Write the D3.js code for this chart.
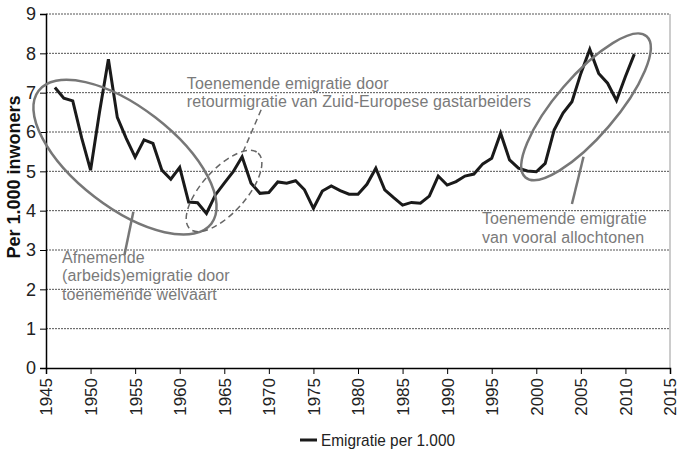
<!DOCTYPE html>
<html>
<head>
<meta charset="utf-8">
<script src="https://cdn.jsdelivr.net/npm/d3@7"></script>
<style>
  body { margin: 0; background: #fff; }
  svg { display: block; font-family: "Liberation Sans", Arial, sans-serif; }
  .grid line { stroke: #555; stroke-width: 1; stroke-dasharray: 2,1; }
  .note { fill: #7a7a7a; font-size: 16px; letter-spacing: 0.1px; }
</style>
</head>
<body>
<div id="chart"></div>
<script>
// data
var years = d3.range(1946, 2012);
var emigratie = [
  7.13, 6.86, 6.79, 5.85, 5.03, 6.5, 7.85, 6.37, 5.84, 5.36,
  5.8, 5.71, 5.03, 4.8, 5.1, 4.22, 4.2, 3.93, 4.4, 4.7,
  4.99, 5.37, 4.7, 4.44, 4.46, 4.73, 4.7, 4.76, 4.53, 4.06,
  4.5, 4.63, 4.51, 4.42, 4.42, 4.67, 5.08, 4.53, 4.33, 4.14,
  4.21, 4.19, 4.37, 4.88, 4.65, 4.74, 4.88, 4.93, 5.19, 5.33,
  5.97, 5.29, 5.08, 5.01, 4.99, 5.2, 6.05, 6.48, 6.77, 7.49,
  8.1, 7.49, 7.24, 6.8, 7.41, 7.98
];
var xTicks = d3.range(1945, 2016, 5);
var yTicks = d3.range(0, 10);
var seriesName = "Emigratie per 1.000";
var yTitle = "Per 1.000 inwoners";

var svgWidth = 680, svgHeight = 456;
var margin = { top: 14, right: 10, bottom: 88, left: 46 };
var width = svgWidth - margin.left - margin.right;    // 624
var height = svgHeight - margin.top - margin.bottom;  // 354

var svg = d3.select("#chart").append("svg")
  .attr("width", svgWidth)
  .attr("height", svgHeight);

var g = svg.append("g")
  .attr("transform", `translate(${margin.left},${margin.top})`);

var x = d3.scaleLinear().domain([1945, 2015]).range([0, width]);
var y = d3.scaleLinear().domain([0, 9]).range([height, 0]);

// dotted gridlines
g.append("g").attr("class", "grid")
  .selectAll("line")
  .data(yTicks.slice(1))
  .enter().append("line")
  .attr("x1", 0).attr("x2", width)
  .attr("y1", d => y(d)).attr("y2", d => y(d));

// right border
g.append("line")
  .attr("x1", width).attr("x2", width)
  .attr("y1", 0).attr("y2", height)
  .attr("stroke", "#999").attr("stroke-width", 1);

// axes
var leftAxis = d3.axisLeft(y).tickValues(yTicks).tickSize(6).tickPadding(4);
var bottomAxis = d3.axisBottom(x).tickValues(xTicks).tickFormat(d3.format("d")).tickSize(6);

var ya = g.append("g").call(leftAxis);
ya.select(".domain").attr("stroke", "#000").attr("stroke-width", 1.5);
ya.selectAll(".tick line").attr("stroke", "#000");
ya.selectAll("text").attr("font-size", 18).attr("fill", "#222")
  .attr("font-family", "Liberation Sans, Arial, sans-serif");

var xa = g.append("g").attr("transform", `translate(0,${height})`).call(bottomAxis);
xa.select(".domain").attr("stroke", "#000").attr("stroke-width", 1.5);
xa.selectAll(".tick line").attr("stroke", "#000");
xa.selectAll("text")
  .attr("font-size", 17).attr("fill", "#222")
  .attr("font-family", "Liberation Sans, Arial, sans-serif")
  .attr("transform", "rotate(-90)")
  .attr("text-anchor", "end")
  .attr("dy", "0.35em")
  .attr("x", -10).attr("y", 0);

// y axis title
svg.append("text")
  .attr("transform", `translate(20,177) rotate(-90)`)
  .attr("text-anchor", "middle")
  .attr("font-size", 18).attr("font-weight", "bold").attr("fill", "#111")
  .text(yTitle);

// the line
var line = d3.line()
  .x((d, i) => x(years[i]))
  .y(d => y(d));

g.append("path")
  .datum(emigratie)
  .attr("d", line)
  .attr("fill", "none")
  .attr("stroke", "#1a1a1a")
  .attr("stroke-width", 3)
  .attr("stroke-linejoin", "miter");

// annotations (ellipses, pointer lines, notes)
function ellipse(cy, cv, rx, ry, angle, dashed) {
  g.append("ellipse")
    .attr("transform", `translate(${x(cy)},${y(cv)}) rotate(${angle})`)
    .attr("rx", rx).attr("ry", ry)
    .attr("fill", "none")
    .attr("stroke", dashed ? "#666" : "#777")
    .attr("stroke-width", dashed ? 1.5 : 2.5)
    .attr("stroke-dasharray", dashed ? "6,4" : null);
}
function pointer(y1, v1, y2, v2, dashed) {
  g.append("line")
    .attr("x1", x(y1)).attr("y1", y(v1))
    .attr("x2", x(y2)).attr("y2", y(v2))
    .attr("stroke", dashed ? "#666" : "#777")
    .attr("stroke-width", dashed ? 1.5 : 2.5)
    .attr("stroke-dasharray", dashed ? "6,4" : null);
}
function note(yr, v, lines) {
  var t = g.append("text").attr("class", "note")
    .attr("x", x(yr)).attr("y", y(v));
  lines.forEach(function (s, i) {
    t.append("tspan").attr("x", x(yr)).attr("dy", i === 0 ? 0 : 18.5).text(s);
  });
}

ellipse(1953.86, 5.36, 109, 50, 37.6, false);
pointer(1954.8, 3.97, 1953.8, 2.87, false);
note(1946.8, 2.68, ["Afnemende", "(arbeids)emigratie door", "toenemende welvaart"]);

ellipse(1964.97, 4.5, 51, 22, -48, true);
pointer(1967.1, 5.49, 1969.2, 6.6, true);
note(1960.8, 7.1, ["Toenemende emigratie door", "retourmigratie van Zuid-Europese gastarbeiders"]);

ellipse(2005.58, 6.64, 93, 30, -49.4, false);
pointer(2005.3, 5.37, 2004, 4.17, false);
note(1993.9, 3.66, ["Toenemende emigratie", "van vooral allochtonen"]);

// legend
var lg = svg.append("g").attr("transform", "translate(300,440)");
lg.append("line").attr("x1", 0).attr("x2", 17).attr("y1", 0).attr("y2", 0)
  .attr("stroke", "#1a1a1a").attr("stroke-width", 3);
lg.append("text").attr("x", 21).attr("y", 0).attr("dy", "0.35em")
  .attr("font-size", 17).attr("fill", "#222")
  .attr("textLength", 134).attr("lengthAdjust", "spacingAndGlyphs")
  .text(seriesName);
</script>
</body>
</html>
